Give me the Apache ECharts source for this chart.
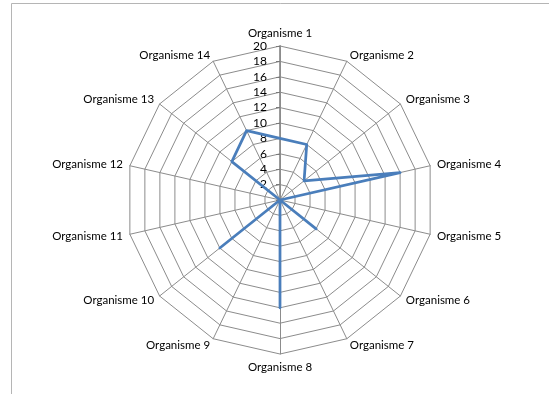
<!DOCTYPE html>
<html>
<head>
<meta charset="utf-8">
<script src="https://cdn.jsdelivr.net/npm/echarts@6/dist/echarts.min.js"></script>
<style>
  html, body { margin: 0; padding: 0; background: #fff; }
  #chart { width: 549px; height: 394px; }
</style>
</head>
<body>
<div id="chart"></div>
<script>
// Organisations, listed clockwise from the top
const categories = [
  'Organisme 1', 'Organisme 2', 'Organisme 3', 'Organisme 4', 'Organisme 5',
  'Organisme 6', 'Organisme 7', 'Organisme 8', 'Organisme 9', 'Organisme 10',
  'Organisme 11', 'Organisme 12', 'Organisme 13', 'Organisme 14'
];
const values = [8, 8, 4, 16, 0, 6, 0, 14, 0, 10, 0, 0, 8, 10];
const axisMax = 20;
const axisStep = 2;

// ECharts lays radar indicators out counter-clockwise, so keep the first
// one on top and reverse the rest to read clockwise.
const order = [0].concat(categories.map((_, i) => i).slice(1).reverse());

const FONT = 'Lato, "Open Sans", sans-serif';
const GRID = '#8c8c8c';
const CENTER = [280, 200];
const RADIUS = 154;

const chart = echarts.init(document.getElementById('chart'), null, { renderer: 'canvas' });
chart.setOption({
  animation: false,
  backgroundColor: '#ffffff',
  graphic: [{
    type: 'rect',
    shape: { x: 11.5, y: 3.5, width: 700, height: 600 },
    style: { fill: 'none', stroke: '#b5b5b5', lineWidth: 1 },
    silent: true
  }],
  radar: {
    center: CENTER,
    radius: RADIUS,
    startAngle: 90,
    shape: 'polygon',
    splitNumber: axisMax / axisStep,
    nameGap: 7,
    axisName: { color: '#000', fontFamily: FONT, fontSize: 11.5 },
    indicator: order.map(i => ({ name: categories[i], min: 0, max: axisMax })),
    axisLine: { lineStyle: { color: GRID, width: 1 } },
    splitLine: { lineStyle: { color: GRID, width: 1 } },
    splitArea: { show: false }
  },
  polar: { center: CENTER, radius: RADIUS },
  angleAxis: { show: false, startAngle: 90, min: 0, max: 360 },
  radiusAxis: {
    min: 0,
    max: axisMax,
    interval: axisStep,
    axisLine: { lineStyle: { color: '#7a7a7a', width: 1.5 } },
    axisTick: { show: true, length: 4, lineStyle: { color: '#7a7a7a' } },
    splitLine: { show: false },
    axisLabel: {
      color: '#000', fontFamily: FONT, fontSize: 12, margin: 13,
      formatter: v => (v === 0 ? '' : String(v))
    }
  },
  series: [{
    type: 'radar',
    symbol: 'none',
    lineStyle: { color: '#4a7ebb', width: 2.75 },
    data: [{ value: order.map(i => values[i]) }]
  }]
});
</script>
</body>
</html>
